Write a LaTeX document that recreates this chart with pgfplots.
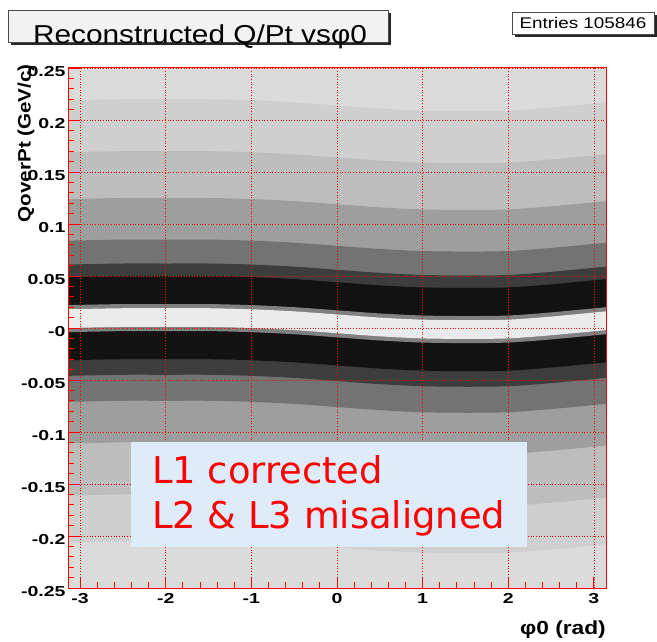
\documentclass[border=0pt]{standalone}
\usepackage{pgfplots}
\pgfplotsset{compat=1.18}
\usepackage{pgfplotstable}
\usepgfplotslibrary{fillbetween}
\usepackage{fontspec}
\setmainfont{Liberation Sans}
\newfontfamily\dejavu{DejaVu Sans}
\definecolor{boxblue}{RGB}{221,235,250}
\definecolor{titlegray}{RGB}{242,242,242}
\newcommand\tl[1]{\scalebox{1.35}[1]{#1}}

% boundaries (in Q/Pt) of the density layers of the scatter
\pgfplotstableread{
x U5 U4 U3 U2 U1 U0 Uc Gt Gb Lc L0 L1 L2 L3 L4 L5
-3.1416 0.219 0.169 0.124 0.084 0.061 0.049 0.022 0.018 0.000 -0.004 -0.031 -0.046 -0.071 -0.111 -0.161 -0.206
-2.5 0.220 0.170 0.125 0.085 0.062 0.050 0.023 0.019 0.001 -0.003 -0.030 -0.045 -0.070 -0.110 -0.160 -0.205
-2.0 0.220 0.170 0.125 0.085 0.062 0.050 0.023 0.019 0.001 -0.003 -0.030 -0.045 -0.070 -0.110 -0.160 -0.205
-1.5 0.220 0.170 0.125 0.085 0.062 0.050 0.023 0.019 0.001 -0.003 -0.030 -0.045 -0.070 -0.110 -0.160 -0.205
-1.0 0.219 0.169 0.124 0.084 0.061 0.049 0.022 0.018 0.000 -0.004 -0.031 -0.046 -0.071 -0.111 -0.161 -0.206
-0.5 0.217 0.167 0.122 0.082 0.059 0.047 0.020 0.016 -0.002 -0.006 -0.033 -0.048 -0.073 -0.113 -0.163 -0.208
0.0 0.214 0.164 0.119 0.079 0.056 0.044 0.017 0.013 -0.005 -0.009 -0.036 -0.051 -0.076 -0.116 -0.166 -0.211
0.5 0.211 0.161 0.116 0.076 0.053 0.041 0.014 0.010 -0.008 -0.012 -0.039 -0.054 -0.079 -0.119 -0.169 -0.214
1.0 0.209 0.159 0.114 0.074 0.051 0.039 0.012 0.008 -0.010 -0.014 -0.041 -0.056 -0.081 -0.121 -0.171 -0.216
1.5 0.2085 0.1585 0.1135 0.0735 0.0505 0.0385 0.0115 0.0075 -0.0105 -0.0145 -0.0415 -0.0565 -0.0815 -0.1215 -0.1715 -0.2165
2.0 0.209 0.159 0.114 0.074 0.051 0.039 0.012 0.008 -0.010 -0.014 -0.041 -0.056 -0.081 -0.121 -0.171 -0.216
2.5 0.212 0.162 0.117 0.077 0.054 0.042 0.015 0.011 -0.007 -0.011 -0.038 -0.053 -0.078 -0.118 -0.168 -0.213
3.1416 0.217 0.167 0.122 0.082 0.059 0.047 0.020 0.016 -0.002 -0.006 -0.033 -0.048 -0.073 -0.113 -0.163 -0.208
}\bands

\begin{document}
\begin{tikzpicture}[x=1bp,y=1bp]
\begin{axis}[
  at={(0,0)}, anchor=south west,
  width=538bp, height=520bp, scale only axis,
  xmin=-3.1416, xmax=3.1416, ymin=-0.25, ymax=0.25,
  set layers=standard,
  fill between/on layer=axis background,
  axis background/.style={fill=black!14},
  axis line style={red, line width=1pt},
  tick style={red, line width=0.8pt},
  major tick length=11bp, minor tick length=6bp,
  tick align=inside, tick pos=left,
  xtick={-3,-2,-1,0,1,2,3},
  xticklabels={\tl{-3},\tl{-2},\tl{-1},\tl{0},\tl{1},\tl{2},\tl{3}},
  ytick={-0.25,-0.2,-0.15,-0.1,-0.05,0,0.05,0.1,0.15,0.2,0.25},
  yticklabels={\tl{-0.25},\tl{-0.2},\tl{-0.15},\tl{-0.1},\tl{-0.05},\tl{-0},\tl{0.05},\tl{0.1},\tl{0.15},\tl{0.2},\tl{0.25}},
  minor x tick num=4, minor y tick num=4,
  grid=major,
  grid style={red, dotted, line width=0.7pt},
  major grid style={red, dotted, line width=0.7pt},
  ticklabel style={font=\bfseries\fontsize{14.5}{14.5}\selectfont, black},
  yticklabel style={yshift=-4bp, xshift=1bp},
  xticklabel style={yshift=-2bp},
]
\addplot[draw=none, smooth, name path=U5] table[x=x,y=U5]{\bands};
\addplot[draw=none, smooth, name path=U4] table[x=x,y=U4]{\bands};
\addplot[draw=none, smooth, name path=U3] table[x=x,y=U3]{\bands};
\addplot[draw=none, smooth, name path=U2] table[x=x,y=U2]{\bands};
\addplot[draw=none, smooth, name path=U1] table[x=x,y=U1]{\bands};
\addplot[draw=none, smooth, name path=U0] table[x=x,y=U0]{\bands};
\addplot[draw=none, smooth, name path=Uc] table[x=x,y=Uc]{\bands};
\addplot[draw=none, smooth, name path=Gt] table[x=x,y=Gt]{\bands};
\addplot[draw=none, smooth, name path=Gb] table[x=x,y=Gb]{\bands};
\addplot[draw=none, smooth, name path=Lc] table[x=x,y=Lc]{\bands};
\addplot[draw=none, smooth, name path=L0] table[x=x,y=L0]{\bands};
\addplot[draw=none, smooth, name path=L1] table[x=x,y=L1]{\bands};
\addplot[draw=none, smooth, name path=L2] table[x=x,y=L2]{\bands};
\addplot[draw=none, smooth, name path=L3] table[x=x,y=L3]{\bands};
\addplot[draw=none, smooth, name path=L4] table[x=x,y=L4]{\bands};
\addplot[draw=none, smooth, name path=L5] table[x=x,y=L5]{\bands};
\addplot[fill=black!19, draw=none] fill between[of=U5 and L5];
\addplot[fill=black!26, draw=none] fill between[of=U4 and L4];
\addplot[fill=black!38, draw=none] fill between[of=U3 and L3];
\addplot[fill=black!55, draw=none] fill between[of=U2 and L2];
\addplot[fill=black!76, draw=none] fill between[of=U1 and L1];
\addplot[fill=black!93, draw=none] fill between[of=U0 and L0];
\addplot[fill=black!50, draw=none] fill between[of=Uc and Lc];
\addplot[fill=black!8, draw=none] fill between[of=Gt and Gb];
\end{axis}

% annotation box
\fill[boxblue] (63,41) rectangle (459,146);
\node[anchor=base west, text=red, inner sep=0pt, font=\dejavu\fontsize{37}{37}\selectfont] at (84,104) {L1 corrected};
\node[anchor=base west, text=red, inner sep=0pt, font=\dejavu\fontsize{37}{37}\selectfont] at (84,59) {L2 \& L3 misaligned};

% title box
\fill[black!85] (-57,543) rectangle (323,575);
\filldraw[fill=titlegray, draw=black!70, line width=0.6pt] (-60,546) rectangle (320,578);
\node[anchor=base, inner sep=0pt, font=\fontsize{26}{26}\selectfont] at (132,544) {\scalebox{1.15}[1]{Reconstructed Q/Pt vsφ0}};

% entries box
\fill[black!85] (447,551) rectangle (589,573);
\filldraw[fill=white, draw=black!70, line width=0.6pt] (444,554) rectangle (586,576);
\node[anchor=base, inner sep=0pt, font=\fontsize{15.5}{15.5}\selectfont] at (515,559) {\scalebox{1.22}[1]{Entries 105846}};

% axis titles
\node[rotate=90, anchor=east, inner sep=0pt, font=\bfseries\fontsize{18}{18}\selectfont] at (-42,524) {\scalebox{1.15}[1]{QoverPt (GeV/c)}};
\node[anchor=base east, inner sep=0pt, font=\bfseries\fontsize{19}{19}\selectfont] at (538,-47) {\scalebox{1.2}[1]{φ0 (rad)}};

\useasboundingbox (-68,-54) rectangle (589,588);
\end{tikzpicture}
\end{document}
